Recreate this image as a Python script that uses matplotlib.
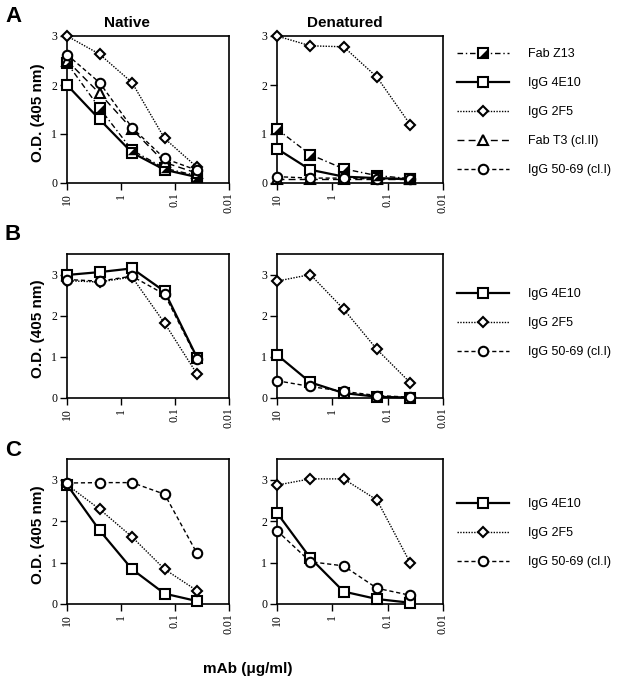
import matplotlib
matplotlib.use("Agg")
import matplotlib.pyplot as plt
from matplotlib.path import Path

plt.rcParams['font.family'] = ['Liberation Sans', 'DejaVu Sans']

# mAb concentrations (ug/ml), 4-fold dilutions
conc = [10, 2.5, 0.625, 0.156, 0.039]

# panel A
a_z13_nat = [2.45, 1.53, 0.67, 0.30, 0.15]
a_4e10_nat = [2.0, 1.30, 0.62, 0.27, 0.12]
a_2f5_nat = [3.0, 2.63, 2.05, 0.91, 0.32]
a_t3_nat = [2.5, 1.83, 1.10, 0.42, 0.20]
a_5069_nat = [2.62, 2.05, 1.13, 0.50, 0.26]

a_z13_den = [1.10, 0.58, 0.29, 0.15, 0.09]
a_4e10_den = [0.70, 0.27, 0.13, 0.10, 0.08]
a_2f5_den = [3.0, 2.80, 2.78, 2.16, 1.19]
a_t3_den = [0.08, 0.08, 0.08, 0.08, 0.08]
a_5069_den = [0.13, 0.10, 0.10, 0.08, 0.08]

# panel B
b_4e10_nat = [2.99, 3.06, 3.15, 2.59, 0.98]
b_2f5_nat = [2.85, 2.82, 2.94, 1.82, 0.58]
b_5069_nat = [2.88, 2.84, 2.96, 2.52, 0.95]

b_4e10_den = [1.05, 0.38, 0.12, 0.03, 0.01]
b_2f5_den = [2.84, 3.0, 2.16, 1.18, 0.37]
b_5069_den = [0.42, 0.28, 0.16, 0.06, 0.02]

# panel C
c_4e10_nat = [2.88, 1.78, 0.84, 0.25, 0.07]
c_2f5_nat = [2.88, 2.29, 1.62, 0.84, 0.32]
c_5069_nat = [2.92, 2.93, 2.93, 2.65, 1.22]

c_4e10_den = [2.20, 1.11, 0.30, 0.12, 0.03]
c_2f5_den = [2.87, 3.02, 3.02, 2.51, 0.99]
c_5069_den = [1.77, 1.02, 0.92, 0.38, 0.21]

xticks = [10, 1, 0.1, 0.01]
xtick_labels = ['10', '1', '0.1', '0.01']

# half-filled square for Fab Z13 (lower right triangle)
half_tri = Path([(1, -1), (1, 1), (-1, -1), (1, -1)],
                [Path.MOVETO, Path.LINETO, Path.LINETO, Path.CLOSEPOLY])

styles = {
    'Fab Z13': dict(ls=(0, (4, 2, 1, 2)), lw=1.0, marker='s', ms=6.8),
    'IgG 4E10': dict(ls='-', lw=1.6, marker='s', ms=6.8),
    'IgG 2F5': dict(ls=(0, (1, 1)), lw=1.0, marker='D', ms=5.0),
    'Fab T3 (cl.II)': dict(ls=(0, (5, 3)), lw=1.0, marker='^', ms=6.8),
    'IgG 50-69 (cl.I)': dict(ls=(0, (3, 2)), lw=1.0, marker='o', ms=6.8),
}


def draw(ax, name, yvals):
    st = styles[name]
    line, = ax.plot(conc, yvals, color='black', ls=st['ls'], lw=st['lw'],
                    marker=st['marker'], ms=st['ms'], mfc='white', mec='black',
                    mew=1.5, clip_on=False, zorder=3)
    if name == 'Fab Z13':
        tri, = ax.plot(conc, yvals, ls='none', marker=half_tri, ms=st['ms'],
                       color='black', mew=0, clip_on=False, zorder=4)
        return (line, tri)
    return line


W, H = 617, 680
fig = plt.figure(figsize=(W / 100, H / 100), dpi=100)


def rect(l, t, r, b):
    return [l / W, 1 - b / H, (r - l) / W, (b - t) / H]


rows = [(36, 183), (254, 398), (459, 604)]
cols = [(67, 229), (277, 443)]

panels = [
    [[('Fab Z13', a_z13_nat), ('IgG 4E10', a_4e10_nat), ('IgG 2F5', a_2f5_nat),
      ('Fab T3 (cl.II)', a_t3_nat), ('IgG 50-69 (cl.I)', a_5069_nat)],
     [('Fab Z13', a_z13_den), ('IgG 4E10', a_4e10_den), ('IgG 2F5', a_2f5_den),
      ('Fab T3 (cl.II)', a_t3_den), ('IgG 50-69 (cl.I)', a_5069_den)]],
    [[('IgG 4E10', b_4e10_nat), ('IgG 2F5', b_2f5_nat), ('IgG 50-69 (cl.I)', b_5069_nat)],
     [('IgG 4E10', b_4e10_den), ('IgG 2F5', b_2f5_den), ('IgG 50-69 (cl.I)', b_5069_den)]],
    [[('IgG 4E10', c_4e10_nat), ('IgG 2F5', c_2f5_nat), ('IgG 50-69 (cl.I)', c_5069_nat)],
     [('IgG 4E10', c_4e10_den), ('IgG 2F5', c_2f5_den), ('IgG 50-69 (cl.I)', c_5069_den)]],
]
ytops = [3.0, 3.5, 3.5]
legend_tops = [48, 288, 498]

for r, (top, bot) in enumerate(rows):
    for c, (left, right) in enumerate(cols):
        ax = fig.add_axes(rect(left, top, right, bot))
        handles = []
        labels = []
        for name, yv in panels[r][c]:
            handles.append(draw(ax, name, yv))
            labels.append(name)
        ax.set_xscale('log')
        ax.set_xlim(10, 0.01)
        ax.set_ylim(0, ytops[r])
        ax.set_xticks(xticks)
        ax.set_xticklabels(xtick_labels, rotation=90, family='Liberation Serif', fontsize=8.5)
        ax.minorticks_off()
        ax.set_yticks([0, 1, 2, 3])
        ax.set_yticklabels(['0', '1', '2', '3'], family='Liberation Serif', fontsize=8.5)
        ax.tick_params(length=5, width=1, pad=2)
        for sp in ax.spines.values():
            sp.set_linewidth(1.2)
        if c == 1:
            order = [labels.index(n) for n in styles if n in labels]
            ax.legend([handles[i] for i in order], [labels[i] for i in order],
                      loc='upper left', bbox_to_anchor=(457 / W, 1 - legend_tops[r] / H),
                      bbox_transform=fig.transFigure, frameon=False, fontsize=9,
                      handlelength=4.2, handletextpad=1.45, labelspacing=1.37,
                      borderpad=0, borderaxespad=0, numpoints=1)
    fig.text(38 / W, 1 - ((top + bot) / 2 + 3) / H, 'O.D. (405 nm)', rotation=90,
             ha='center', va='center', fontsize=11, fontweight='bold')

fig.text(5 / W, 1 - 16 / H, 'A', fontsize=16, fontweight='bold', va='center')
fig.text(5 / W, 1 - 235 / H, 'B', fontsize=16, fontweight='bold', va='center')
fig.text(5 / W, 1 - 450 / H, 'C', fontsize=16, fontweight='bold', va='center')

fig.text(127 / W, 1 - 23 / H, 'Native', fontsize=11, fontweight='bold', ha='center', va='center')
fig.text(345 / W, 1 - 23 / H, 'Denatured', fontsize=11, fontweight='bold', ha='center', va='center')
fig.text(248 / W, 1 - 669 / H, 'mAb (\u03bcg/ml)', fontsize=11, fontweight='bold',
         ha='center', va='center')

fig.savefig('out.png', dpi=100)
